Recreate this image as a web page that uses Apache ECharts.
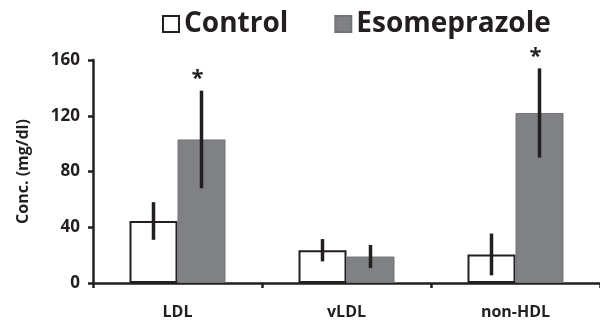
<!DOCTYPE html>
<html><head><meta charset="utf-8">
<script src="https://cdn.jsdelivr.net/npm/echarts@6/dist/echarts.min.js"></script>
<style>html,body{margin:0;padding:0;background:#fff}#c{width:600px;height:327px}</style>
</head><body><div id="c"></div>
<script>
const categories = ['LDL', 'vLDL', 'non-HDL'];
const controlMean = [44.5, 23.5, 20.5];
const controlSD = [13.5, 8, 15];
const esoMean = [103, 19, 122];
const esoSD = [35, 8.3, 32];
const esoStar = [1, 0, 1];
const yTicks = [0, 40, 80, 120, 160];

const ink = '#231f20';
const font = '"Open Sans"';
const barW = 48;

function errData(mean, sd, star) {
  return mean.map((m, i) => [i, m, sd[i], star ? star[i] : 0]);
}
function errRender(offset) {
  return function (params, api) {
    const i = api.value(0), m = api.value(1), s = api.value(2), st = api.value(3);
    const x = api.coord([i, 0])[0] + offset;
    const yt = api.coord([i, m + s])[1];
    const yb = api.coord([i, m - s])[1];
    const children = [{
      type: 'line',
      shape: { x1: x, y1: yt, x2: x, y2: yb },
      style: { stroke: ink, lineWidth: 3.5 }
    }];
    if (st) {
      children.push({
        type: 'text',
        style: { text: '*', x: x - 4, y: yt - 12, fill: ink, font: 'bold 22px ' + font, align: 'center', verticalAlign: 'middle' }
      });
    }
    return { type: 'group', children };
  };
}

const chart = echarts.init(document.getElementById('c'), null, { renderer: 'canvas' });
chart.setOption({
  animation: false,
  backgroundColor: '#fff',
  legend: {
    data: ['Control', 'Esomeprazole'],
    left: 157, top: 5,
    icon: 'rect', itemWidth: 16, itemHeight: 16, itemGap: 46,
    textStyle: { fontFamily: font, fontWeight: 'bold', fontSize: 28, color: ink }
  },
  grid: { left: 93, right: -7, top: 60, bottom: 44 },
  xAxis: {
    type: 'category', data: categories,
    axisLine: { lineStyle: { color: ink, width: 2.5 } },
    axisTick: { show: true, length: 5, lineStyle: { color: ink, width: 2.5 } },
    axisLabel: { margin: 21, fontFamily: font, fontWeight: 'bold', fontSize: 16, color: ink }
  },
  yAxis: {
    type: 'value', min: yTicks[0], max: yTicks[yTicks.length - 1], interval: 40,
    name: 'Conc. (mg/dl)', nameLocation: 'middle', nameGap: 62,
    nameTextStyle: { fontFamily: font, fontWeight: 'bold', fontSize: 16, color: ink },
    axisLine: { show: true, lineStyle: { color: ink, width: 2.5 } },
    axisTick: { show: true, length: 5, lineStyle: { color: ink, width: 2.5 } },
    splitLine: { show: false },
    axisLabel: { margin: 13, fontFamily: font, fontWeight: 'bold', fontSize: 17, color: ink }
  },
  series: [
    { name: 'Control', type: 'bar', data: controlMean, barWidth: barW, barGap: '0%',
      itemStyle: { color: '#ffffff', borderColor: ink, borderWidth: 2 } },
    { name: 'Esomeprazole', type: 'bar', data: esoMean, barWidth: barW, barGap: '0%',
      itemStyle: { color: '#808184', borderColor: '#737477', borderWidth: 1 } },
    { name: 'errC', type: 'custom', renderItem: errRender(-barW / 2), data: errData(controlMean, controlSD), z: 10,
      encode: { x: 0, y: 1 } },
    { name: 'errE', type: 'custom', renderItem: errRender(barW / 2), data: errData(esoMean, esoSD, esoStar), z: 10,
      encode: { x: 0, y: 1 } }
  ]
});
</script></body></html>
